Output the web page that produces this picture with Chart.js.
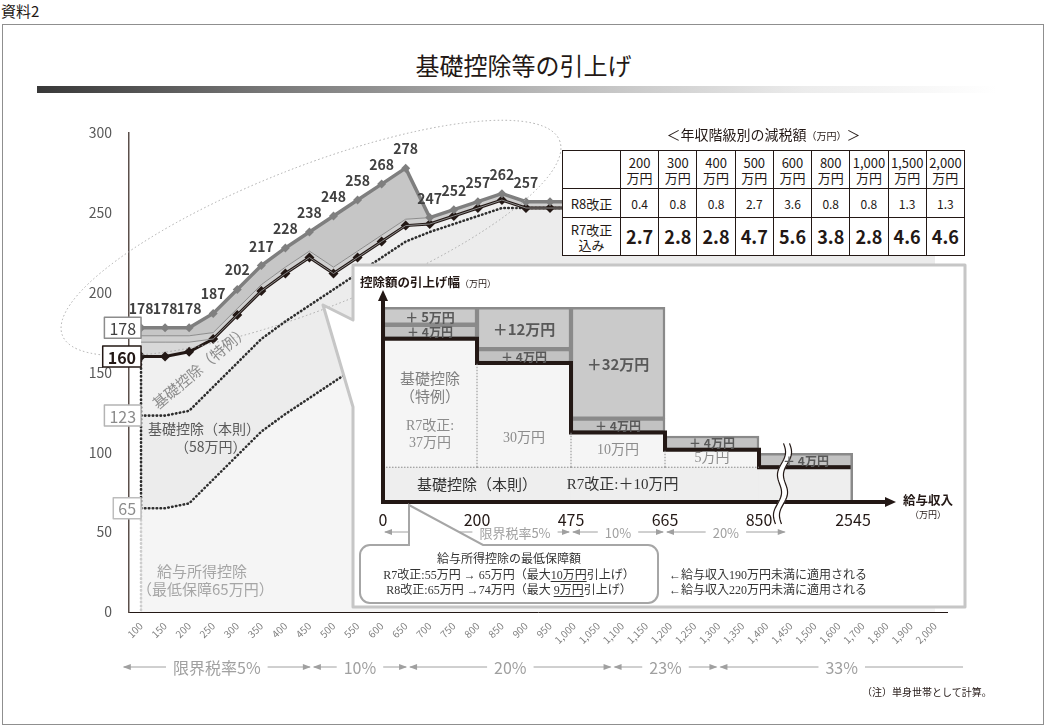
<!DOCTYPE html>
<html lang="ja">
<head>
<meta charset="utf-8">
<title>基礎控除等の引上げ</title>
<script src="https://cdn.jsdelivr.net/npm/chart.js@4.4.1/dist/chart.umd.min.js"></script>
<style>
  html, body { margin: 0; padding: 0; background: #fff; }
  body { position: relative; width: 1047px; height: 727px; overflow: hidden;
         font-family: "Noto Sans CJK JP", "Noto Sans", sans-serif; color: #231815; }
  .abs { position: absolute; line-height: 1; white-space: nowrap; }
  #doc-no { left: 1px; top: 3px; font-size: 15px; }
  #frame { left: 2px; top: 24px; width: 1040px; height: 699px; border: 1px solid #8f8f8f; }
  #title { left: 0; top: 53px; width: 1047px; text-align: center; font-size: 24px; }
  #rule { left: 37px; top: 86px; width: 960px; height: 7px;
          background: linear-gradient(to right, #383838 0%, #7a7a7a 25%, #bdbdbd 55%, #ececec 80%, #fff 100%); }
  #main { left: 0; top: 0; z-index: 1; }
  #inset { left: 352px; top: 265px; z-index: 3; }
  #tbl-title { left: 562px; width: 403px; top: 127px; text-align: center; font-size: 14px; z-index: 2; }
  #tbl-title small { font-size: 10px; }
  #tbl { left: 562px; top: 150px; width: 403px; border-collapse: collapse; table-layout: fixed;
         background: #fff; z-index: 2; }
  #tbl td { border: 1px solid #231815; text-align: center; padding: 0; line-height: 15px; }
  #tbl tr.hd td { height: 37px; font-size: 13px; }
  #tbl tr.r8 td { height: 28px; font-size: 12px; }
  #tbl tr.r7 td { height: 37px; font-size: 18px; font-weight: bold; }
  #tbl td.rh { font-size: 13px !important; font-weight: normal !important; }
  .lbl { z-index: 2; }
</style>
</head>
<body>
<div id="doc-no" class="abs">資料2</div>
<div id="frame" class="abs"></div>
<div id="title" class="abs">基礎控除等の引上げ</div>
<div id="rule" class="abs"></div>

<canvas id="main" class="abs" width="1047" height="727"></canvas>

<div class="abs lbl" style="left:140px;top:359px;font-size:15px;color:#8c8c8c;transform:rotate(-40deg);">基礎控除（特例）</div>
<div class="abs lbl" style="left:148px;top:421px;font-size:14px;color:#595959;">基礎控除（本則）</div>
<div class="abs lbl" style="left:175px;top:439px;font-size:14px;color:#595959;">（58万円）</div>
<div class="abs lbl" style="left:157px;top:563px;font-size:15px;color:#a6a6a6;">給与所得控除</div>
<div class="abs lbl" style="left:137px;top:581px;font-size:15px;color:#a6a6a6;">（最低保障65万円）</div>
<div class="abs lbl" style="left:862px;top:687px;font-size:10px;color:#231815;">（注）単身世帯として計算。</div>

<div id="tbl-title" class="abs">＜年収階級別の減税額<small>（万円）</small>＞</div>
<table id="tbl" class="abs">
  <colgroup><col style="width:58px"></colgroup>
  <tbody id="tbl-body"></tbody>
</table>

<canvas id="inset" class="abs" width="613" height="342"></canvas>

<script>
// income steps (万円) along the bottom axis
const incomeLabels = [100, 150, 200, 250, 300, 350, 400, 450, 500, 550, 600, 650, 700, 750, 800, 850, 900,
  950, 1000, 1050, 1100, 1150, 1200, 1250, 1300, 1350, 1400, 1450, 1500, 1600, 1700, 1800, 1900, 2000];

// R8 total deduction (labelled line)
const totalR8 = [178, 178, 178, 187, 202, 217, 228, 238, 248, 258, 268, 278, 247, 252, 257, 262, 257,
  257, 257, 257, 257, 257, 257, 257, 257, 257, 257, 257, 257, 257, 257, 257, 257, 257];
// R8 total without the temporary add-on
const withoutTemp = [173, 173, 173, 175, 190, 205, 216, 226, 216, 226, 236, 246, 247, 252, 257, 262, 257,
  257, 257, 257, 257, 257, 257, 257, 257, 257, 257, 257, 257, 257, 257, 257, 257, 257];
// R7 total plus the higher minimum employment deduction
const withMinGuarantee = [169, 169, 169, 171, 186, 201, 212, 222, 212, 222, 232, 242, 243, 248, 253, 258, 253,
  253, 253, 253, 253, 253, 253, 253, 253, 253, 253, 253, 253, 253, 253, 253, 253, 253];
// R7 total deduction (black line)
const totalR7 = [160, 160, 163, 171, 186, 201, 212, 222, 212, 222, 232, 242, 243, 248, 253, 258, 253,
  253, 253, 253, 253, 253, 253, 253, 253, 253, 253, 253, 253, 253, 253, 253, 253, 253];
// employment deduction + basic deduction (58)
const basicPlusEmp = [123, 123, 126, 141, 156, 171, 182, 192, 202, 212, 222, 232, 238, 243, 248, 253, 253,
  253, 253, 253, 253, 253, 253, 253, 253, 253, 253, 253, 253, 253, 253, 253, 253, 253];
// employment income deduction
const empDeduction = [65, 65, 68, 83, 98, 113, 124, 134, 144, 154, 164, 174, 180, 185, 190, 195, 195,
  195, 195, 195, 195, 195, 195, 195, 195, 195, 195, 195, 195, 195, 195, 195, 195, 195];

const yTicks = [0, 50, 100, 150, 200, 250, 300];
const labelUpTo = 900;

const rateLabels = ['限界税率5%', '10%', '20%', '23%', '33%'];
const rateBreaks = [60, 455, 655, 1080, 1300, 2125];

// table: tax cut by income class
const tableIncomes = [200, 300, 400, 500, 600, 800, 1000, 1500, 2000];
const taxCutR8 = [0.4, 0.8, 0.8, 2.7, 3.6, 0.8, 0.8, 1.3, 1.3];
const taxCutWithR7 = [2.7, 2.8, 2.8, 4.7, 5.6, 3.8, 2.8, 4.6, 4.6];

// inset: raise of the deduction by income band
const insetEdges = [0, 200, 475, 665, 850, 2545];
const insetBase = [10, 10, 10, 10, 10];
const insetSpecialR7 = [37, 30, 10, 5, 0];
const insetPlus4 = [4, 4, 4, 4, 4];
const insetExtra = [5, 12, 32, 0, 0];
const insetRateLabels = ['限界税率5%', '10%', '20%'];
const insetRateBreaks = [0, 475, 665, 1350];

const FONT = '"Noto Sans CJK JP", "Noto Sans", sans-serif';
const SERIF = '"Liberation Serif", "Noto Sans CJK JP", serif';
Chart.defaults.font.family = FONT;

// build table
const tbody = document.getElementById('tbl-body');
let rows = '<tr class="hd"><td class="rh"></td>' +
  tableIncomes.map(v => `<td>${v.toLocaleString('en-US')}<br>万円</td>`).join('') + '</tr>';
rows += '<tr class="r8"><td class="rh">R8改正</td>' +
  taxCutR8.map(v => `<td>${v.toFixed(1)}</td>`).join('') + '</tr>';
rows += '<tr class="r7"><td class="rh">R7改正<br>込み</td>' +
  taxCutWithR7.map(v => `<td>${v.toFixed(1)}</td>`).join('') + '</tr>';
tbody.innerHTML = rows;

function arrowHead(ctx, x, y, dir, len, half) {
  ctx.beginPath();
  ctx.moveTo(x, y);
  ctx.lineTo(x - dir * len, y - half);
  ctx.lineTo(x - dir * len, y + half);
  ctx.closePath();
  ctx.fill();
}

function drawRateBands(ctx, xs, labels, y, font, color, openEnd, firstTextLeft) {
  ctx.save();
  ctx.font = font;
  ctx.fillStyle = color;
  ctx.strokeStyle = color;
  ctx.lineWidth = 1;
  ctx.textAlign = 'center';
  ctx.textBaseline = 'middle';
  for (let i = 0; i < labels.length; i++) {
    const a = xs[i], b = xs[i + 1];
    const left = (i === 0 && firstTextLeft !== undefined) ? firstTextLeft : a;
    const mid = (left + b) / 2;
    const half = ctx.measureText(labels[i]).width / 2 + 7;
    ctx.beginPath();
    ctx.moveTo(a + 2, y); ctx.lineTo(mid - half, y);
    ctx.moveTo(mid + half, y); ctx.lineTo(b - 2, y);
    ctx.stroke();
    ctx.fillText(labels[i], mid, y + 1);
    arrowHead(ctx, a + 1, y, -1, 8, 3);
    if (!(openEnd && i === labels.length - 1)) arrowHead(ctx, b - 1, y, 1, 8, 3);
  }
  ctx.restore();
}

function incomeToIndex(v, arr) {
  const n = arr.length;
  if (v <= arr[0]) return (v - arr[0]) / (arr[1] - arr[0]);
  if (v >= arr[n - 1]) return n - 1 + (v - arr[n - 1]) / (arr[n - 1] - arr[n - 2]);
  for (let i = 0; i < n - 1; i++) {
    if (v <= arr[i + 1]) return i + (v - arr[i]) / (arr[i + 1] - arr[i]);
  }
}

const mainDecor = {
  id: 'mainDecor',
  afterDatasetsDraw(chart) {
    const {ctx} = chart;
    const xs = chart.scales.x, ys = chart.scales.y;
    const x0 = xs.getPixelForValue(0);
    ctx.save();

    // dotted guide at the first income step
    ctx.lineCap = 'round';
    ctx.lineWidth = 2.6;
    ctx.setLineDash([0.5, 3.4]);
    ctx.strokeStyle = '#2e2e2e';
    ctx.beginPath();
    ctx.moveTo(x0, ys.getPixelForValue(totalR7[0]));
    ctx.lineTo(x0, ys.getPixelForValue(empDeduction[0]));
    ctx.stroke();
    ctx.strokeStyle = '#cdcdcd';
    ctx.beginPath();
    ctx.moveTo(x0, ys.getPixelForValue(empDeduction[0]));
    ctx.lineTo(x0, ys.getPixelForValue(0));
    ctx.stroke();

    // dotted ellipse round the raised part
    ctx.lineCap = 'butt';
    ctx.lineWidth = 1;
    ctx.setLineDash([1.5, 2.5]);
    ctx.strokeStyle = '#a9a9a9';
    ctx.beginPath();
    ctx.ellipse(311, 238, 267, 71, -21.4 * Math.PI / 180, 0, 2 * Math.PI);
    ctx.stroke();

    // frame of the inset with its pointer
    ctx.setLineDash([]);
    ctx.lineWidth = 3;
    ctx.lineJoin = 'round';
    ctx.strokeStyle = '#c6c6c6';
    ctx.fillStyle = '#fff';
    ctx.beginPath();
    ctx.moveTo(353, 320); ctx.lineTo(353, 265); ctx.lineTo(965, 265); ctx.lineTo(965, 607);
    ctx.lineTo(353, 607); ctx.lineTo(353, 407); ctx.lineTo(323, 305);
    ctx.closePath();
    ctx.fill();
    ctx.stroke();

    // value boxes on the left
    const boxes = [
      [totalR8[0], '#8c8c8c', '#404040', '16px ' + FONT],
      [totalR7[0], '#231815', '#231815', 'bold 16px ' + FONT],
      [basicPlusEmp[0], '#b4b4b4', '#8c8c8c', '16px ' + FONT],
      [empDeduction[0], '#bdbdbd', '#8c8c8c', '16px ' + FONT]
    ];
    ctx.textAlign = 'center';
    ctx.textBaseline = 'middle';
    boxes.forEach(([v, stroke, fill, font]) => {
      ctx.font = font;
      const y = ys.getPixelForValue(v);
      const w = ctx.measureText(String(v)).width + 10, h = 21;
      ctx.fillStyle = '#fff';
      ctx.fillRect(x0 - w, y - h / 2, w, h);
      ctx.strokeStyle = stroke;
      ctx.lineWidth = 1.5;
      ctx.strokeRect(x0 - w, y - h / 2, w, h);
      ctx.fillStyle = fill;
      ctx.fillText(String(v), x0 - w / 2, y + 1);
    });

    // labels over the R8 line
    ctx.font = 'bold 14px ' + FONT;
    ctx.fillStyle = '#404040';
    ctx.textBaseline = 'alphabetic';
    chart.getDatasetMeta(0).data.forEach((pt, i) => {
      if (incomeLabels[i] > labelUpTo) return;
      ctx.fillText(String(totalR8[i]), pt.x, pt.y - 14);
    });

    // marginal tax rate bands under the axis
    const bandXs = rateBreaks.map(v => xs.getPixelForValue(incomeToIndex(v, incomeLabels)));
    drawRateBands(ctx, bandXs, rateLabels, 667, '16px ' + FONT, '#a0a0a0', true);

    ctx.restore();
  }
};

new Chart(document.getElementById('main'), {
  type: 'line',
  data: {
    labels: incomeLabels,
    datasets: [
      {
        label: 'R8改正後', data: totalR8, borderColor: '#7f7f7f', borderWidth: 3.5,
        pointStyle: 'rectRot', pointRadius: 4.5, pointBackgroundColor: '#7f7f7f', pointBorderWidth: 0,
        fill: {target: '+1', above: '#c6c6c6', below: '#c6c6c6'}
      },
      {
        label: '恒久分', data: withoutTemp, borderColor: '#8c8c8c', borderWidth: 1, pointRadius: 0,
        fill: {target: '+1', above: '#cfcfcf', below: '#cfcfcf'}
      },
      {
        label: '最低保障', data: withMinGuarantee, borderColor: '#8c8c8c', borderWidth: 1, pointRadius: 0,
        fill: {target: '+1', above: '#d8d8d8', below: '#d8d8d8'}
      },
      {
        label: 'R7改正後', data: totalR7, borderColor: '#231815', borderWidth: 3,
        pointStyle: 'rectRot', pointRadius: 5, pointBackgroundColor: '#231815', pointBorderWidth: 0,
        fill: {target: '+1', above: '#f0f0f0', below: '#f0f0f0'}
      },
      {
        label: '基礎控除（本則）', data: basicPlusEmp, borderColor: '#2e2e2e', borderWidth: 2.6,
        borderDash: [0.5, 3.4], borderCapStyle: 'round', pointRadius: 0,
        fill: {target: '+1', above: '#ececec', below: '#ececec'}
      },
      {
        label: '給与所得控除', data: empDeduction, borderColor: '#2e2e2e', borderWidth: 2.6,
        borderDash: [0.5, 3.4], borderCapStyle: 'round', pointRadius: 0,
        fill: {target: 'origin', above: '#f5f5f5', below: '#f5f5f5'}
      }
    ]
  },
  options: {
    responsive: false,
    animation: false,
    layout: {padding: {left: 0, top: 133, right: 100, bottom: 65}},
    plugins: {
      legend: {display: false},
      tooltip: {enabled: false},
      filler: {drawTime: 'beforeDatasetsDraw'}
    },
    scales: {
      x: {
        type: 'category',
        offset: true,
        grid: {display: false, drawTicks: false},
        border: {display: true, color: '#231815', width: 1, dash: [3, 2]},
        ticks: {
          autoSkip: false, minRotation: 45, maxRotation: 45, padding: 8,
          color: '#808080', font: {size: 10},
          callback: (v, i) => incomeLabels[i].toLocaleString('en-US')
        },
        afterFit: s => { s.height = 50; }
      },
      y: {
        min: 0, max: 300,
        grid: {display: false, drawTicks: false},
        border: {display: true, color: '#5b4f4a', width: 1.5},
        afterBuildTicks: s => { s.ticks = yTicks.map(v => ({value: v})); },
        ticks: {padding: 17, color: '#595959', font: {size: 14}},
        afterFit: s => { s.width = 129; }
      }
    }
  },
  plugins: [mainDecor]
});

// ---- inset: step chart of the deduction raise ----
function plusLabel(v) {
  return v < 10 ? `＋ ${v}万円` : `＋${v}万円`;
}

function drawParts(ctx, parts, cx, y) {
  const total = parts.reduce((s, p) => s + ctx.measureText(p[0]).width, 0);
  let x = cx - total / 2;
  ctx.textAlign = 'left';
  parts.forEach(([t, under]) => {
    const w = ctx.measureText(t).width;
    ctx.fillText(t, x, y);
    if (under) {
      ctx.fillRect(x, y + 2, w, 1);
    }
    x += w;
  });
}

const insetDecor = {
  id: 'insetDecor',
  afterDatasetsDraw(chart) {
    const {ctx, chartArea: ca} = chart;
    const xs = chart.scales.x, ys = chart.scales.y;
    const px = v => xs.getPixelForValue(v), py = v => ys.getPixelForValue(v);
    ctx.save();

    // dotted dividers in the light area
    ctx.strokeStyle = '#8c8c8c';
    ctx.lineWidth = 1;
    ctx.setLineDash([1.5, 1.5]);
    ctx.beginPath();
    insetSpecialR7.forEach((v, i) => {
      if (v > 0) { ctx.moveTo(px(i), py(insetBase[i])); ctx.lineTo(px(i + 1), py(insetBase[i])); }
    });
    for (let i = 1; i < insetBase.length; i++) {
      const lower = Math.min(insetBase[i - 1] + insetSpecialR7[i - 1], insetBase[i] + insetSpecialR7[i]);
      if (lower > insetBase[i]) { ctx.moveTo(px(i), py(insetBase[i])); ctx.lineTo(px(i), py(lower)); }
    }
    ctx.stroke();
    ctx.setLineDash([]);

    // right edge of the last band
    const last = insetBase.length - 1;
    ctx.strokeStyle = '#8a8a8a';
    ctx.lineWidth = 2.5;
    ctx.beginPath();
    ctx.moveTo(px(last + 1) - 1.25, py(0));
    ctx.lineTo(px(last + 1) - 1.25, py(insetBase[last] + insetPlus4[last]));
    ctx.stroke();

    // axes with arrows
    const ox = px(0), oy = py(0);
    ctx.strokeStyle = '#231815';
    ctx.fillStyle = '#231815';
    ctx.lineWidth = 4;
    ctx.beginPath();
    ctx.moveTo(ox, oy + 2); ctx.lineTo(ox, ca.top + 8);
    ctx.moveTo(ox - 2, oy); ctx.lineTo(px(insetEdges.length - 1) + 34, oy);
    ctx.stroke();
    ctx.beginPath();
    ctx.moveTo(ox, ca.top); ctx.lineTo(ox - 5, ca.top + 11); ctx.lineTo(ox + 5, ca.top + 11); ctx.closePath();
    ctx.fill();
    arrowHead(ctx, px(insetEdges.length - 1) + 43, oy, 1, 11, 5);

    // break mark between 850 and 2545
    const bx = px(4.25), bt = py(insetBase[last] + insetPlus4[last]) - 10, bb = oy + 22;
    const wave = dx => {
      ctx.beginPath();
      for (let k = 0; k <= 40; k++) {
        const t = k / 40, yy = bt + (bb - bt) * t;
        const xx = bx + dx + 3 * Math.sin(t * Math.PI * 4) + (0.5 - t) * 8;
        if (k === 0) ctx.moveTo(xx, yy); else ctx.lineTo(xx, yy);
      }
      ctx.stroke();
    };
    ctx.strokeStyle = '#fff'; ctx.lineWidth = 6; wave(0);
    ctx.strokeStyle = '#231815'; ctx.lineWidth = 1.2; wave(-3); wave(3);

    // texts inside the bands
    ctx.textAlign = 'center';
    ctx.textBaseline = 'middle';
    const mBase = chart.getDatasetMeta(0), mSpec = chart.getDatasetMeta(1);
    const m4 = chart.getDatasetMeta(2), mExtra = chart.getDatasetMeta(3);
    ctx.fillStyle = '#595959';
    ctx.font = 'bold 12px ' + FONT;
    m4.data.forEach((bar, i) => ctx.fillText(plusLabel(insetPlus4[i]), bar.x, (bar.y + bar.base) / 2 + 1));
    mExtra.data.forEach((bar, i) => {
      if (insetExtra[i] <= 0) return;
      ctx.font = (insetExtra[i] < 10 ? 'bold 13px ' : 'bold 15px ') + FONT;
      ctx.fillText(plusLabel(insetExtra[i]), bar.x, (bar.y + bar.base) / 2 + 1);
    });

    const s0 = mSpec.data[0];
    ctx.fillStyle = '#808080';
    ctx.font = '15px ' + FONT;
    ctx.fillText('基礎控除', s0.x, s0.y + 40);
    ctx.fillText('（特例）', s0.x, s0.y + 58);
    ctx.fillStyle = '#8c8c8c';
    ctx.font = '14px ' + SERIF;
    ctx.fillText('R7改正:', s0.x, s0.base - 41);
    ctx.fillText(`${insetSpecialR7[0]}万円`, s0.x, s0.base - 24);
    mSpec.data.forEach((bar, i) => {
      if (i === 0 || insetSpecialR7[i] <= 0) return;
      ctx.fillText(`${insetSpecialR7[i]}万円`, bar.x, Math.max((bar.y + bar.base) / 2, bar.base - 29));
    });

    const baseMid = (mBase.data[0].y + mBase.data[0].base) / 2;
    ctx.fillStyle = '#333';
    ctx.font = '15px ' + FONT;
    ctx.fillText('基礎控除（本則）', px(1.0), baseMid);
    ctx.font = '15px ' + SERIF;
    ctx.fillText(`R7改正:＋${insetBase[0]}万円`, px(2.55), baseMid);

    // axis titles
    ctx.textBaseline = 'alphabetic';
    ctx.textAlign = 'left';
    ctx.fillStyle = '#231815';
    ctx.font = 'bold 12.5px ' + FONT;
    ctx.fillText('控除額の引上げ幅', 8, 22);
    const tw = ctx.measureText('控除額の引上げ幅').width;
    ctx.font = '9px ' + FONT;
    ctx.fillText('（万円）', 8 + tw, 22);
    ctx.textAlign = 'center';
    ctx.font = 'bold 12.5px ' + FONT;
    ctx.fillText('給与収入', 576, 240);
    ctx.font = '9px ' + FONT;
    ctx.fillText('（万円）', 576, 253);

    // marginal tax rate bands
    const rateXs = insetRateBreaks.map(v => px(incomeToIndex(v, insetEdges)));
    drawRateBands(ctx, rateXs, insetRateLabels, 267, '13px ' + FONT, '#a0a0a0', false, 107);

    // callout for the minimum guarantee
    ctx.lineWidth = 2;
    ctx.strokeStyle = '#a6a6a6';
    ctx.fillStyle = '#fff';
    const L = 8, T = 280, R = 306, B = 338, r = 10;
    ctx.beginPath();
    ctx.moveTo(57, T);
    ctx.lineTo(L + r, T);
    ctx.arcTo(L, T, L, T + r, r);
    ctx.lineTo(L, B - r);
    ctx.arcTo(L, B, L + r, B, r);
    ctx.lineTo(R - r, B);
    ctx.arcTo(R, B, R, B - r, r);
    ctx.lineTo(R, T + r);
    ctx.arcTo(R, T, R - r, T, r);
    ctx.lineTo(131, T);
    ctx.lineTo(57, oy + 3);
    ctx.closePath();
    ctx.fill();
    ctx.stroke();

    ctx.fillStyle = '#333';
    ctx.font = '12px ' + SERIF;
    ctx.textAlign = 'center';
    ctx.fillText('給与所得控除の最低保障額', 157, 298);
    drawParts(ctx, [['R7改正:55万円 → 65万円（最大', false], ['10万円', true], ['引上げ）', false]], 157, 314);
    drawParts(ctx, [['R8改正:65万円 →74万円（最大 ', false], ['9万円', true], ['引上げ）', false]], 157, 329);
    ctx.textAlign = 'left';
    ctx.fillText('←給与収入190万円未満に適用される', 317, 314);
    ctx.fillText('←給与収入220万円未満に適用される', 317, 329);

    ctx.restore();
  }
};

const insetTotalsR7 = insetBase.map((v, i) => v + insetSpecialR7[i]);
const stepPoints = insetTotalsR7.map((v, i) => ({x: i, y: v}));
stepPoints.push({x: insetEdges.length - 1, y: insetTotalsR7[insetTotalsR7.length - 1]});

const barCommon = {type: 'bar', barPercentage: 1, categoryPercentage: 1, order: 1};
const centres = arr => arr.map((v, i) => ({x: i + 0.5, y: v}));

new Chart(document.getElementById('inset'), {
  data: {
    datasets: [
      {...barCommon, label: '本則', data: centres(insetBase), backgroundColor: '#eeeeee', borderWidth: 0},
      {...barCommon, label: '特例（R7）', data: centres(insetSpecialR7), backgroundColor: '#f5f5f5', borderWidth: 0},
      {...barCommon, label: '+4万円', data: centres(insetPlus4), backgroundColor: '#c2c2c2',
        borderColor: '#8a8a8a', borderWidth: 2.5, borderSkipped: false},
      {...barCommon, label: '上乗せ', data: centres(insetExtra), backgroundColor: '#cacaca',
        borderColor: '#8a8a8a', borderWidth: 2.5, borderSkipped: false},
      {type: 'line', label: 'R7改正後', data: stepPoints, stepped: 'before', borderColor: '#231815',
        borderWidth: 4, pointRadius: 0, fill: false, order: 0, borderJoinStyle: 'miter'}
    ]
  },
  options: {
    responsive: false,
    animation: false,
    layout: {padding: {left: 31, top: 25, right: 112, bottom: 75}},
    plugins: {legend: {display: false}, tooltip: {enabled: false}},
    scales: {
      x: {
        type: 'linear', min: 0, max: insetEdges.length - 1, offset: false, stacked: true,
        grid: {display: false, drawTicks: false},
        border: {display: false},
        afterBuildTicks: s => { s.ticks = insetEdges.map((v, i) => ({value: i})); },
        ticks: {
          autoSkip: false, maxRotation: 0, padding: 8, color: '#231815', font: {size: 16},
          callback: (v) => insetEdges[v]
        },
        afterFit: s => { s.height = 30; }
      },
      y: {display: false, min: 0, max: 61, stacked: true}
    }
  },
  plugins: [insetDecor]
});
</script>
</body>
</html>
